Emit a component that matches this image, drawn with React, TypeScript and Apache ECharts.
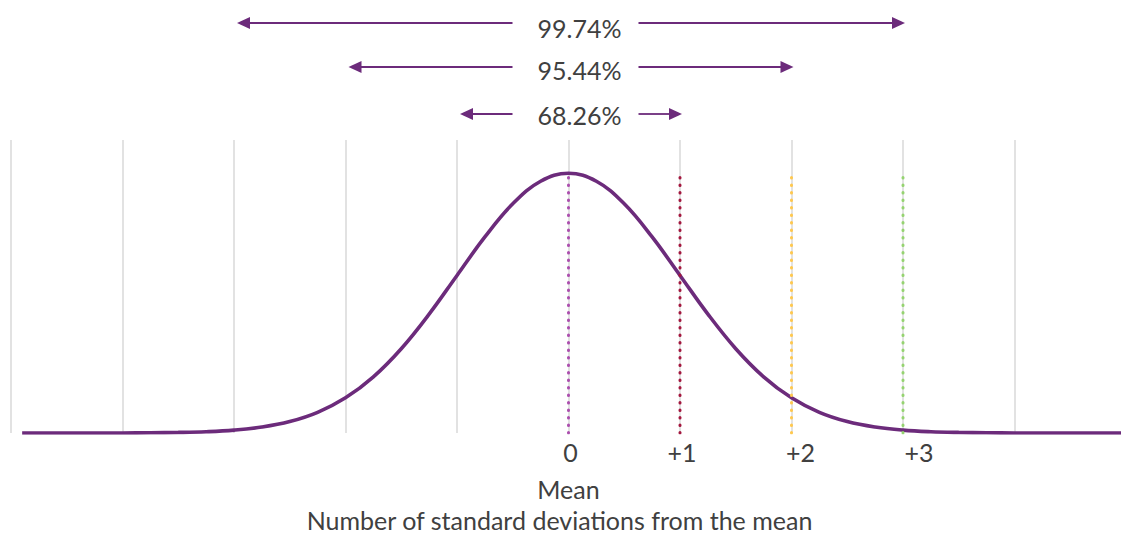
import React, { useEffect, useRef } from "react";
import * as echarts from "echarts";

// Curve: standard deviations (x) and density (y)
const xValues = [
  -4.9, -4.75, -4.5, -4.25, -4, -3.75, -3.5, -3.25, -3, -2.75, -2.5, -2.25, -2, -1.75, -1.5, -1.25, -1, -0.75, -0.5, -0.25,
  0, 0.25, 0.5, 0.75, 1, 1.25, 1.5, 1.75, 2, 2.25, 2.5, 2.75, 3, 3.25, 3.5, 3.75, 4, 4.25, 4.5, 4.75, 5,
];
const densityValues = [
  0, 0, 0, 0, 0.0001, 0.0004, 0.0009, 0.002, 0.0044, 0.0091, 0.0175, 0.0317, 0.054, 0.0863, 0.1295, 0.1826, 0.242, 0.3011, 0.3521, 0.3867,
  0.3989, 0.3867, 0.3521, 0.3011, 0.242, 0.1826, 0.1295, 0.0863, 0.054, 0.0317, 0.0175, 0.0091, 0.0044, 0.002, 0.0009, 0.0004, 0.0001, 0, 0, 0, 0,
];

// Marked standard deviations
const sigmaMarks = [0, 1, 2, 3];
const sigmaLabels = ["0", "+1", "+2", "+3"];
const sigmaColors = ["#AC4FAE", "#A3173E", "#FFC84E", "#95D370"];
const sigmaTops = [0.399, 0.399, 0.394, 0.394];
const sigmaLabelShift = [4, 4, 18, 32];

// Coverage arrows
const coverageLabels = ["99.74%", "95.44%", "68.26%"];
const coverageSpans = [3, 2, 1];

const meanLabel = "Mean";
const axisTitle = "Number of standard deviations from the mean";

const FONT = "Lato, 'Open Sans', sans-serif";
const TEXT_COLOR = "#404040";
const PURPLE = "#6C2B7B";
const FS = 25;

export default function App() {
  const ref = useRef<HTMLDivElement>(null);

  useEffect(() => {
    if (!ref.current) return;
    const chart = echarts.init(ref.current, undefined, { renderer: "svg" });

    const rich: Record<string, any> = {};
    sigmaLabels.forEach((_, i) => {
      rich["s" + i] = {
        fontFamily: FONT,
        fontSize: FS,
        color: TEXT_COLOR,
        padding: [0, 0, 0, sigmaLabelShift[i]],
      };
    });

    const series: any[] = [
      {
        type: "line",
        data: xValues.map((x, i) => [x, densityValues[i]]),
        smooth: 0.4,
        symbol: "none",
        lineStyle: { color: PURPLE, width: 3.6 },
        z: 2,
      },
    ];
    sigmaMarks.forEach((m, i) => {
      series.push({
        type: "line",
        data: [
          [m, 0],
          [m, sigmaTops[i]],
        ],
        symbol: "none",
        lineStyle: { color: sigmaColors[i], width: 3, type: [0.5, 7], cap: "round" },
        z: 3,
      });
    });

    chart.setOption({
      animation: false,
      grid: { left: 11, right: 0, top: 140, bottom: 103, containLabel: false },
      xAxis: {
        type: "value",
        min: -5,
        max: 5,
        interval: 1,
        axisLine: { show: false },
        axisTick: { show: false },
        splitLine: { show: true, lineStyle: { color: "#D9D9D9", width: 1.5 } },
        axisLabel: {
          margin: 6,
          fontFamily: FONT,
          fontSize: FS,
          color: TEXT_COLOR,
          formatter: (v: number) => {
            const idx = sigmaMarks.indexOf(v);
            return idx >= 0 ? `{s${idx}|${sigmaLabels[idx]}}` : "";
          },
          rich,
        },
      },
      yAxis: { type: "value", min: 0, max: 0.45, show: false, splitLine: { show: false } },
      series,
    });

    const px = (v: number) => chart.convertToPixel({ xAxisIndex: 0 }, v) as number;
    const center = px(0);
    const arrowYs = [23, 67, 114];
    const textYs = [28, 70, 115];
    const graphic: any[] = [];
    coverageLabels.forEach((label, i) => {
      const k = coverageSpans[i];
      const xl = px(-k) + 3;
      const xr = px(k) + 2;
      const y = arrowYs[i];
      const gapL = center + 7 - 63;
      const gapR = center + 7 + 63;
      const head = 13;
      const hh = 6;
      graphic.push(
        { type: "line", shape: { x1: xl + head - 1, y1: y, x2: gapL, y2: y }, style: { stroke: PURPLE, lineWidth: 1.8 } },
        { type: "line", shape: { x1: gapR, y1: y, x2: xr - head + 1, y2: y }, style: { stroke: PURPLE, lineWidth: 1.8 } },
        { type: "polygon", shape: { points: [[xl, y], [xl + head, y - hh], [xl + head, y + hh]] }, style: { fill: PURPLE } },
        { type: "polygon", shape: { points: [[xr, y], [xr - head, y - hh], [xr - head, y + hh]] }, style: { fill: PURPLE } },
        {
          type: "text",
          x: center + 11,
          y: textYs[i],
          style: {
            text: label,
            fill: TEXT_COLOR,
            font: `${FS}px ${FONT}`,
            textAlign: "center",
            textVerticalAlign: "middle",
          },
        }
      );
    });
    graphic.push(
      {
        type: "text",
        x: center,
        y: 489,
        style: { text: meanLabel, fill: TEXT_COLOR, font: `${FS}px ${FONT}`, textAlign: "center", textVerticalAlign: "middle" },
      },
      {
        type: "text",
        x: center - 9,
        y: 520,
        style: { text: axisTitle, fill: TEXT_COLOR, font: `25px ${FONT}`, textAlign: "center", textVerticalAlign: "middle" },
      }
    );
    chart.setOption({ graphic });

    return () => chart.dispose();
  }, []);

  return (
    <div
      ref={ref}
      style={{ position: "fixed", left: 0, top: 0, width: 1129, height: 536, background: "#ffffff" }}
    />
  );
}
